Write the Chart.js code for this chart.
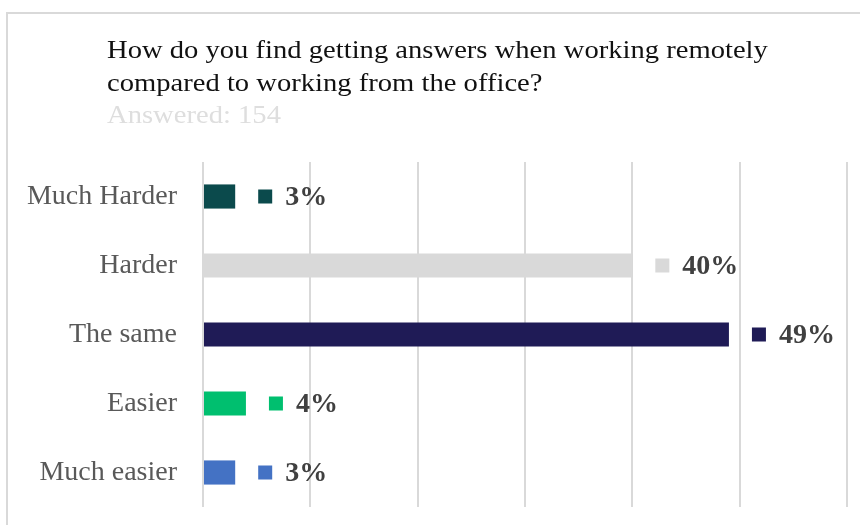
<!DOCTYPE html>
<html>
<head>
<meta charset="utf-8">
<script src="https://cdn.jsdelivr.net/npm/chart.js@4"></script>
<style>
  html, body { margin: 0; padding: 0; background: #ffffff; }
  #wrap { width: 860px; height: 525px; }
</style>
</head>
<body>
<div id="wrap"><canvas id="answersChart" width="860" height="525"></canvas></div>
<script>
const categories = ['Much Harder', 'Harder', 'The same', 'Easier', 'Much easier'];
const shares = [3, 40, 49, 4, 3];
const barColors = ['#0B4A4C', '#D9D9D9', '#1F1B56', '#00BF6F', '#4472C4'];
const titleLines = [
    'How do you find getting answers when working remotely',
    'compared to working from the office?'
];
const answeredText = 'Answered: 154';

const SERIF = '"Liberation Serif", "Times New Roman", serif';

// grey frame and question header (text slightly widened)
const headerPlugin = {
    id: 'header',
    beforeDraw(chart) {
        const ctx = chart.ctx;
        ctx.save();
        ctx.strokeStyle = '#D9D9D9';
        ctx.lineWidth = 2;
        ctx.strokeRect(7, 13, 900, 600);

        ctx.textAlign = 'left';
        ctx.textBaseline = 'alphabetic';
        ctx.font = '26px ' + SERIF;
        ctx.translate(107, 0);
        ctx.scale(1.1, 1);
        ctx.fillStyle = '#111111';
        ctx.fillText(titleLines[0], 0, 58);
        ctx.fillText(titleLines[1], 0, 91);
        ctx.fillStyle = '#DEDEDE';
        ctx.fillText(answeredText, 0, 123);
        ctx.restore();
    }
};

// small colour square + bold percentage after each bar
const valueLabels = {
    id: 'valueLabels',
    afterDatasetsDraw(chart) {
        const ctx = chart.ctx;
        const meta = chart.getDatasetMeta(0);
        ctx.save();
        ctx.font = 'bold 28px ' + SERIF;
        ctx.textBaseline = 'middle';
        ctx.textAlign = 'left';
        meta.data.forEach((bar, i) => {
            const x = bar.x + 23;
            ctx.fillStyle = barColors[i];
            ctx.fillRect(x, bar.y - 7, 14, 14);
            ctx.fillStyle = '#404040';
            ctx.fillText(shares[i] + '%', x + 27, bar.y + 1);
        });
        ctx.restore();
    }
};

new Chart(document.getElementById('answersChart').getContext('2d'), {
    type: 'bar',
    data: {
        labels: categories,
        datasets: [{
            data: shares,
            backgroundColor: barColors,
            borderWidth: 0,
            categoryPercentage: 1,
            barPercentage: 0.35
        }]
    },
    options: {
        indexAxis: 'y',
        responsive: false,
        animation: false,
        layout: { padding: { left: 0, right: 13, top: 162, bottom: 18 } },
        plugins: {
            legend: { display: false },
            tooltip: { enabled: false }
        },
        scales: {
            x: {
                min: 0,
                max: 60,
                ticks: { display: false, stepSize: 10 },
                grid: { color: '#D9D9D9', lineWidth: 2, drawTicks: false },
                border: { display: false },
                afterFit(scale) { scale.height = 0; }
            },
            y: {
                grid: { display: false, drawTicks: false },
                border: { display: false },
                ticks: {
                    color: '#595959',
                    padding: 26,
                    font: { family: SERIF, size: 28 }
                },
                afterFit(scale) {
                    scale.width = 203;
                    // don't let label padding shrink the plot vertically
                    scale.paddingTop = 0;
                    scale.paddingBottom = 0;
                }
            }
        }
    },
    plugins: [headerPlugin, valueLabels]
});
</script>
</body>
</html>
